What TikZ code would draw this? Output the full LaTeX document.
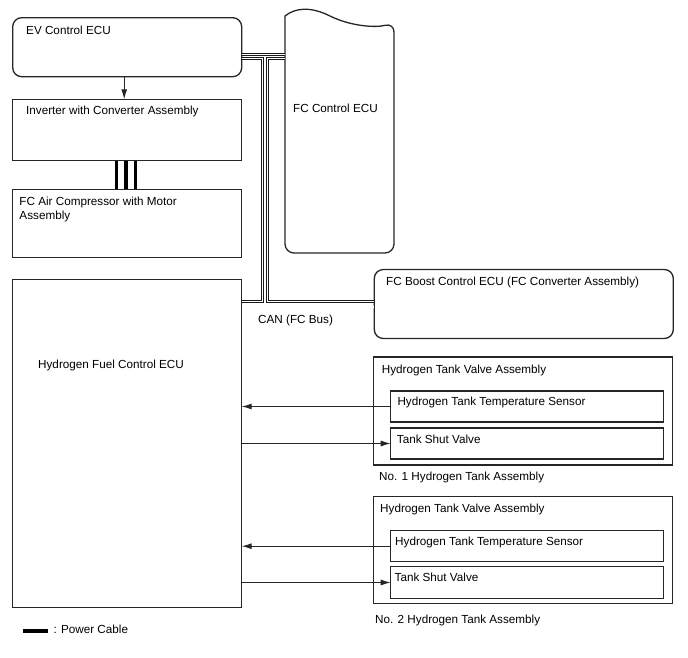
\documentclass[tikz,border=0pt]{standalone}
\usepackage{fontspec}
\setmainfont{Liberation Sans}
\usetikzlibrary{positioning}
\usetikzlibrary{arrows.meta}

\begin{document}
\begin{tikzpicture}[
    x=1pt, y=-1pt,
    font=\fontsize{11.7}{14}\selectfont,
    box/.style={rectangle, draw=black!85, line width=1.3pt, inner sep=0pt, outer sep=0pt, anchor=north west},
    rbox/.style={box, rounded corners=9pt},
    lbl/.style={inner sep=0pt, anchor=base west},
    outline/.style={draw=black!85, line width=1.3pt},
    can/.style={draw=black!90, double=white, double distance=1.2pt, line width=0.8pt},
    power/.style={line width=3.6pt, black},
    sig/.style={->, draw=black!85, line width=1pt},
    >={Latex[length=10pt,width=6pt]}
]
    \useasboundingbox (0,0) rectangle (688,658);

    % left column
    \node[rbox, minimum width=229pt, minimum height=59pt] (ev) at (12.7,17.7) {};
    \node[box, minimum width=229pt, minimum height=61.4pt, below=22.6pt of ev] (inv) {};
    \node[box, minimum width=229pt, minimum height=68pt, below=28.6pt of inv] (air) {};
    \node[box, minimum width=229pt, minimum height=328pt, below=22pt of air] (hfc) {};

    % right column
    \node[inner sep=0pt, outer sep=0pt, anchor=north west, minimum width=109pt, minimum height=237pt] (fcc) at (285,16) {};
    \node[rbox, minimum width=299pt, minimum height=69pt] (boost) at (374.3,269.5) {};
    \node[box, minimum width=299pt, minimum height=108pt] (tank1) at (373.3,357) {};
    \node[box, minimum width=272.6pt, minimum height=31pt] (sens1) at (390.7,391) {};
    \node[box, minimum width=272.6pt, minimum height=31pt] (valve1) at (390.7,428) {};
    \node[box, minimum width=299pt, minimum height=106.8pt] (tank2) at (373.3,496.5) {};
    \node[box, minimum width=272.6pt, minimum height=31pt] (sens2) at (390.7,530.7) {};
    \node[box, minimum width=272.6pt, minimum height=31.6pt] (valve2) at (390.7,566.7) {};

    % FC Control ECU outline with torn top
    \draw[outline] ([yshift=-7pt]fcc.north east) .. controls (375,28) and (350,26) .. (330,16)
        .. controls (310,6) and (295,8) .. (fcc.north west)
        [rounded corners=9pt] -- (fcc.south west) -- (fcc.south east) -- cycle;

    % labels
    \node[lbl] (evlbl) at ([shift={(13.3,16.6)}]ev.north west) {EV Control ECU};
    \node[lbl] (invlbl) at ([shift={(13.3,15.7)}]inv.north west) {Inverter with Converter Assembly};
    \node[inner sep=0pt, anchor=north west, align=left] (airlbl) at ([shift={(6.6,7.2)}]air.north west) {FC Air Compressor with Motor\\Assembly};
    \node[lbl] (hfclbl) at ([shift={(25.3,88.7)}]hfc.north west) {Hydrogen Fuel Control ECU};
    \node[lbl] (fcclbl) at ([shift={(8,97)}]fcc.north west) {FC Control ECU};
    \node[lbl] (boostlbl) at ([shift={(11.7,15.5)}]boost.north west) {FC Boost Control ECU (FC Converter Assembly)};
    \node[lbl] (canlbl) at ([shift={(16.3,44)}]hfc.north east) {CAN (FC Bus)};
    \node[lbl] (tank1lbl) at ([shift={(8.4,16)}]tank1.north west) {Hydrogen Tank Valve Assembly};
    \node[lbl] (sens1lbl) at ([shift={(6.6,14.5)}]sens1.north west) {Hydrogen Tank Temperature Sensor};
    \node[lbl] (valve1lbl) at ([shift={(6,15.5)}]valve1.north west) {Tank Shut Valve};
    \node[lbl] (no1lbl) at ([shift={(5.7,15)}]tank1.south west) {No. 1 Hydrogen Tank Assembly};
    \node[lbl] (tank2lbl) at ([shift={(6.7,16)}]tank2.north west) {Hydrogen Tank Valve Assembly};
    \node[lbl] (sens2lbl) at ([shift={(4.3,14.8)}]sens2.north west) {Hydrogen Tank Temperature Sensor};
    \node[lbl] (valve2lbl) at ([shift={(3.8,14.8)}]valve2.north west) {Tank Shut Valve};
    \node[lbl] (no2lbl) at ([shift={(1.7,20)}]tank2.south west) {No. 2 Hydrogen Tank Assembly};

    % signals
    \draw[sig] ([xshift=-3pt]ev.south) -- ([xshift=-3pt]inv.north);
    \draw[sig] (sens1.west) -- (sens1.west -| hfc.east);
    \draw[sig] (hfc.east |- valve1.west) -- (valve1.west);
    \draw[sig] (sens2.west) -- (sens2.west -| hfc.east);
    \draw[sig] (hfc.east |- valve2.west) -- (valve2.west);

    % power cables
    \foreach \dx in {-10.7,-1.2,8.3}
        \draw[power] ([xshift=\dx pt]inv.south) -- ([xshift=\dx pt]air.north);

    % CAN bus
    \coordinate (busT) at (0,54.3);
    \coordinate (busA) at (262.7,58.3);
    \coordinate (busB) at (267.7,58.3);
    \coordinate (busC) at (262.7,301.5);
    \coordinate (busD) at (267.7,301.5);
    \coordinate (busU) at (0,307);
    \draw[can] (ev.east |- busT) -- (fcc.west |- busT);
    \draw[can] (ev.east |- busA) -- (busA) -- (busC) -- (hfc.east |- busC);
    \draw[can] (fcc.west |- busB) -- (busB) -- (busD) -- (boost.west |- busD);
    \draw[can] (hfc.east |- busU) -- (boost.west |- busU);

    % legend
    \coordinate (leg) at (22.7,631);
    \node[lbl] (leglbl) at (53.3,633.5) {: Power Cable};
    \draw[power] (leg) -- ([xshift=-5pt]leglbl.west |- leg);
\end{tikzpicture}
\end{document}
